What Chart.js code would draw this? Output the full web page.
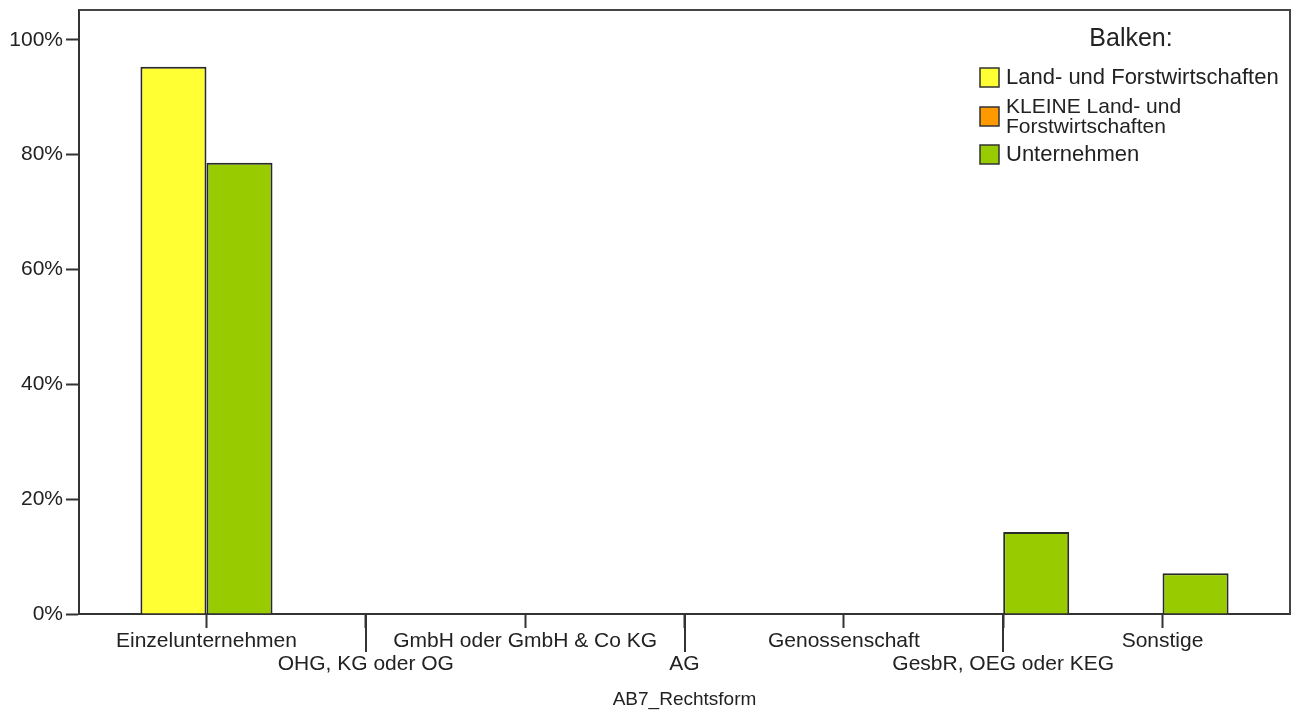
<!DOCTYPE html>
<html>
<head>
<meta charset="utf-8">
<script src="https://cdn.jsdelivr.net/npm/chart.js@4.4.1/dist/chart.umd.min.js"></script>
<style>
  html, body { margin: 0; padding: 0; background: #fff; }
  #wrap { width: 1299px; height: 713px; position: relative; }
</style>
</head>
<body>
<div id="wrap"><canvas id="c"></canvas></div>
<script>
// categories (AB7_Rechtsform)
const CATS = ['Einzelunternehmen', 'OHG, KG oder OG', 'GmbH oder GmbH & Co KG', 'AG',
  'Genossenschaft', 'GesbR, OEG oder KEG', 'Sonstige'];
// percent values per series
const LAND = [95.3, 0, 0, 0.1, 0, 0, 0];
const KLEIN = [];
const UNTERN = [78.6, 0, 0, 0, 0, 14.3, 7.1];
const Y_TICKS = [0, 20, 40, 60, 80, 100];
const SERIES_NAMES = ['Land- und Forstwirtschaften', 'KLEINE Land- und Forstwirtschaften', 'Unternehmen'];
const LEGEND_LINES = [['Land- und Forstwirtschaften'], ['KLEINE Land- und', 'Forstwirtschaften'], ['Unternehmen']];

const FONT = '"Liberation Sans", Arial, sans-serif';
const INK = '#222';
const AXIS = '#333';

const pts = arr => arr.map((v, i) => ({ x: i, y: v }));

// top/right frame lines and the long ticks of the lower label row
const framePlugin = {
  id: 'frame',
  afterDraw(chart) {
    const { ctx, chartArea: a } = chart;
    const xs = chart.scales.x;
    ctx.save();
    ctx.strokeStyle = '#444';
    ctx.lineWidth = 2;
    ctx.beginPath();
    ctx.moveTo(a.left, a.top);
    ctx.lineTo(a.right, a.top);
    ctx.lineTo(a.right, a.bottom);
    ctx.stroke();
    ctx.strokeStyle = AXIS;
    CATS.forEach((c, i) => {
      if (i % 2 === 0) return;
      const x = Math.round(xs.getPixelForValue(i));
      ctx.beginPath();
      ctx.moveTo(x, a.bottom);
      ctx.lineTo(x, a.bottom + 38);
      ctx.stroke();
    });
    ctx.restore();
  }
};

// SPSS-like legend block in the upper right of the plot
const legendPlugin = {
  id: 'boxLegend',
  afterDraw(chart) {
    const { ctx } = chart;
    const ds = chart.data.datasets;
    ctx.save();
    ctx.fillStyle = INK;
    ctx.textBaseline = 'middle';
    ctx.textAlign = 'center';
    ctx.font = '25px ' + FONT;
    ctx.fillText('Balken:', 1131, 39);
    ctx.textAlign = 'left';
    const rows = [77, 116, 154];
    LEGEND_LINES.forEach((lines, i) => {
      const cy = rows[i];
      ctx.fillStyle = ds[i].backgroundColor;
      ctx.fillRect(980, cy - 9, 19, 19);
      ctx.strokeStyle = '#333';
      ctx.lineWidth = 1.5;
      ctx.strokeRect(980, cy - 9, 19, 19);
      ctx.fillStyle = INK;
      if (lines.length === 1) {
        ctx.font = '22px ' + FONT;
        ctx.fillText(lines[0], 1006, cy + 1);
      } else {
        ctx.font = '21px ' + FONT;
        ctx.fillText(lines[0], 1006, cy - 9);
        ctx.fillText(lines[1], 1006, cy + 11);
      }
    });
    ctx.restore();
  }
};

new Chart(document.getElementById('c'), {
  type: 'bar',
  data: {
    datasets: [
      { label: SERIES_NAMES[0], data: pts(LAND), stack: 'a', backgroundColor: '#FFFF33' },
      { label: SERIES_NAMES[1], data: pts(KLEIN), stack: 'a', backgroundColor: '#FF9900' },
      { label: SERIES_NAMES[2], data: pts(UNTERN), stack: 'b', backgroundColor: '#99CC00' },
    ],
  },
  options: {
    responsive: true,
    maintainAspectRatio: false,
    animation: false,
    layout: { padding: { top: 10, right: 9, left: 0, bottom: 0 } },
    datasets: {
      bar: {
        borderColor: '#2a2a2a',
        borderWidth: 2,
        borderSkipped: 'bottom',
        categoryPercentage: 0.829,
        barPercentage: 1,
      },
    },
    plugins: {
      legend: { display: false },
      tooltip: { enabled: false },
    },
    scales: {
      x: {
        type: 'linear',
        min: -0.8,
        max: 6.8,
        offset: false,
        afterFit: s => { s.height = 99; },
        afterBuildTicks: s => { s.ticks = CATS.map((c, i) => ({ value: i })); },
        grid: {
          display: true,
          offset: false,
          drawOnChartArea: false,
          tickLength: 14,
          tickColor: AXIS,
          tickWidth: 2,
        },
        border: { display: true, color: AXIS, width: 2 },
        ticks: {
          autoSkip: false,
          maxRotation: 0,
          minRotation: 0,
          padding: 2,
          color: INK,
          font: { family: FONT, size: 21, lineHeight: 1.1 },
          callback: v => (v % 2 === 1 ? ['', CATS[v]] : CATS[v]),
        },
        title: {
          display: true,
          text: 'AB7_Rechtsform',
          color: INK,
          font: { family: FONT, size: 19, lineHeight: 1.2 },
          padding: { top: 0, bottom: 2 },
        },
      },
      y: {
        min: 0,
        max: 105.2,
        afterFit: s => { s.width = 79; s.paddingTop = 0; s.paddingBottom = 0; },
        afterBuildTicks: s => { s.ticks = Y_TICKS.map(v => ({ value: v })); },
        grid: {
          display: true,
          drawOnChartArea: false,
          tickLength: 13,
          tickColor: AXIS,
          tickWidth: 2,
        },
        border: { display: true, color: AXIS, width: 2 },
        ticks: {
          padding: 3,
          color: INK,
          font: { family: FONT, size: 21 },
          callback: v => v + '%',
        },
      },
    },
  },
  plugins: [framePlugin, legendPlugin],
});
</script>
</body>
</html>
